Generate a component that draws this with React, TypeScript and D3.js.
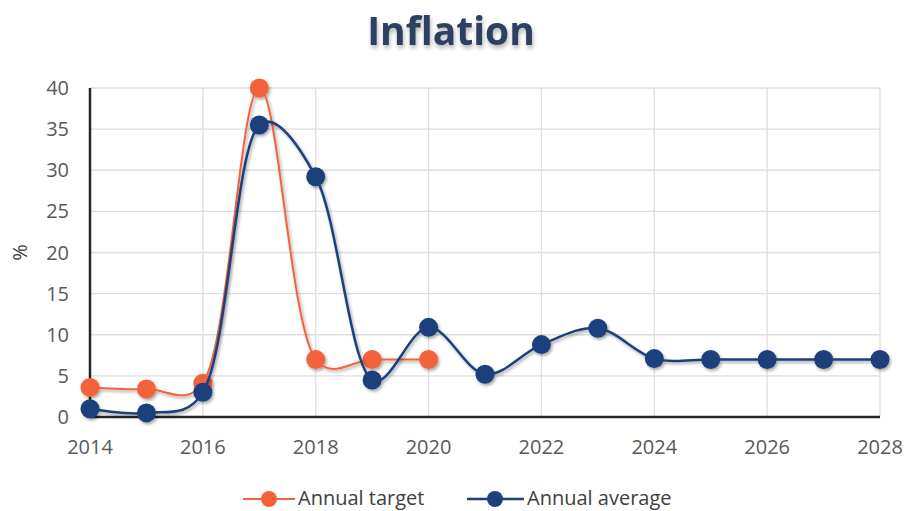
import React from "react";
import * as d3 from "d3";

const years = [2014, 2015, 2016, 2017, 2018, 2019, 2020, 2021, 2022, 2023, 2024, 2025, 2026, 2027, 2028];
const targetYears = [2014, 2015, 2016, 2017, 2018, 2019, 2020];
const annualTarget = [3.6, 3.4, 4.1, 40, 7, 7, 7];
const annualAverage = [1.0, 0.5, 3.0, 35.5, 29.2, 4.5, 10.9, 5.2, 8.8, 10.8, 7.1, 7.0, 7.0, 7.0, 7.0];
const xTicks = [2014, 2016, 2018, 2020, 2022, 2024, 2026, 2028];
const yTicks = [0, 5, 10, 15, 20, 25, 30, 35, 40];

const W = 907, H = 511;
const ORANGE = "#F4623A";
const BLUE = "#1D3F7C";
const FONT = "'Open Sans', 'Noto Sans', sans-serif";

export default function App() {
  const x = d3.scaleLinear().domain([2014, 2028]).range([90, 880]);
  const y = d3.scaleLinear().domain([0, 40]).range([417, 88]);
  const line = d3.line<[number, number]>()
    .x(d => x(d[0]))
    .y(d => y(d[1]))
    .curve(d3.curveCatmullRom.alpha(0.3));
  const tData: [number, number][] = targetYears.map((yr, i) => [yr, annualTarget[i]]);
  const aData: [number, number][] = years.map((yr, i) => [yr, annualAverage[i]]);

  return (
    <svg width={W} height={H} style={{ position: "absolute", left: 0, top: 0, background: "#fff" }}>
      <defs>
        <filter id="sh" x="-50%" y="-50%" width="200%" height="200%">
          <feDropShadow dx="1.5" dy="2" stdDeviation="1.5" floodColor="#000" floodOpacity="0.35" />
        </filter>
        <filter id="tsh" x="-20%" y="-20%" width="140%" height="160%">
          <feDropShadow dx="1" dy="3" stdDeviation="2" floodColor="#000" floodOpacity="0.3" />
        </filter>
      </defs>
      <text x={451} y={45} textAnchor="middle" fontFamily={FONT} fontWeight="bold" fontSize={39}
        fill="#2E405E" filter="url(#tsh)">Inflation</text>

      {/* gridlines */}
      {yTicks.filter(t => t > 0).map(t => (
        <line key={"h" + t} x1={x(2014)} x2={x(2028)} y1={y(t)} y2={y(t)} stroke="#DEDEDE" strokeWidth={1.3} />
      ))}
      {xTicks.filter(t => t > 2014).map(t => (
        <line key={"v" + t} x1={x(t)} x2={x(t)} y1={y(40)} y2={y(0)} stroke="#DEDEDE" strokeWidth={1.3} />
      ))}
      {/* axes */}
      <line x1={x(2014)} x2={x(2014)} y1={y(40)} y2={y(0)} stroke="#262626" strokeWidth={2.5} />
      <line x1={x(2014)} x2={x(2028)} y1={y(0)} y2={y(0)} stroke="#262626" strokeWidth={2.5} />

      {/* tick labels */}
      {yTicks.map(t => (
        <text key={"yl" + t} x={69} y={y(t)} dy="0.35em" textAnchor="end" fontFamily={FONT} fontSize={20} fill="#595959">{t}</text>
      ))}
      {xTicks.map(t => (
        <text key={"xl" + t} x={x(t)} y={454} textAnchor="middle" fontFamily={FONT} fontSize={20} fill="#595959">{t}</text>
      ))}
      <text transform={`translate(27,${y(20)}) rotate(-90)`} textAnchor="middle" fontFamily={FONT} fontSize={20} fill="#404040">%</text>

      {/* series */}
      <g filter="url(#sh)">
        <path d={line(tData) || ""} fill="none" stroke={ORANGE} strokeWidth={2} />
        {tData.map((d, i) => (
          <circle key={"t" + i} cx={x(d[0])} cy={y(d[1])} r={9.5} fill={ORANGE} />
        ))}
      </g>
      <g filter="url(#sh)">
        <path d={line(aData) || ""} fill="none" stroke={BLUE} strokeWidth={2.5} />
        {aData.map((d, i) => (
          <circle key={"a" + i} cx={x(d[0])} cy={y(d[1])} r={9.5} fill={BLUE} />
        ))}
      </g>

      {/* legend */}
      <g>
        <line x1={243} x2={295} y1={499} y2={499} stroke={ORANGE} strokeWidth={2} />
        <circle cx={269} cy={499} r={8} fill={ORANGE} />
        <text x={298} y={505} fontFamily={FONT} fontSize={20} fill="#404040">Annual target</text>
        <line x1={467} x2={524} y1={499} y2={499} stroke={BLUE} strokeWidth={2.5} />
        <circle cx={495} cy={499} r={8} fill={BLUE} />
        <text x={527} y={505} fontFamily={FONT} fontSize={20} fill="#404040">Annual average</text>
      </g>
    </svg>
  );
}
